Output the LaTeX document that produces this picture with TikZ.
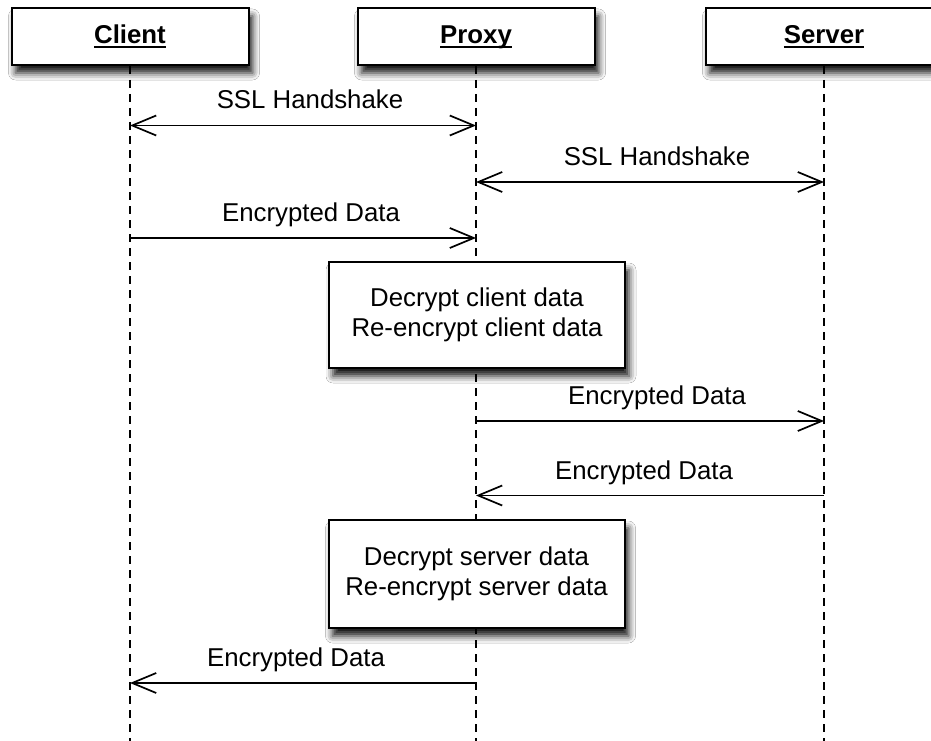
\documentclass[tikz,border=0pt]{standalone}
\usepackage{fontspec}
\setmainfont{Liberation Sans}
\usetikzlibrary{arrows.meta,shadows.blur}

% bold title with a rule set just under the baseline
\newcommand\ultitle[1]{\setbox0\hbox{\bfseries #1}\rlap{\rule[-4.5pt]{\wd0}{2pt}}\box0}

\begin{document}
\begin{tikzpicture}[x=1pt,y=-1pt,
  every node/.style={font=\fontsize{25.8}{29.5}\selectfont},
  softshadow/.style={blur shadow={shadow xshift=4pt, shadow yshift=-8pt,
      shadow blur radius=7pt, shadow opacity=92}},
  actor/.style={draw, line width=2pt, fill=white, minimum width=237pt,
      minimum height=57pt, inner sep=0pt, text height=18pt, text depth=4.5pt,
      softshadow},
  activity/.style={draw, line width=2pt, fill=white, minimum width=296pt,
      inner sep=0pt, align=center, softshadow},
  lifeline/.style={line width=2pt, dash pattern=on 8pt off 6pt},
  msg/.style={line width=1.7pt},
  tipR/.style={-{Straight Barb[length=24pt,width=20pt]}},
  tipL/.style={{Straight Barb[length=24pt,width=20pt]}-},
  tipLR/.style={{Straight Barb[length=24pt,width=20pt]}-{Straight Barb[length=24pt,width=20pt]}},
  lbl/.style={anchor=base, inner sep=0pt}
]
\clip (0,0) rectangle (931,741);
\fill[white] (0,0) rectangle (931,741);

% participants
\coordinate (client-end) at (130,745);
\coordinate (proxy-end) at (476,745);
\coordinate (server-end) at (824,745);
\node[actor] (client) at (130,36.5) {\ultitle{Client}};
\node[actor] (proxy) at (476,36.5) {\ultitle{Proxy}};
\node[actor] (server) at (824,36.5) {\ultitle{Server}};

% lifelines
\draw[lifeline] (client.south) -- (client-end);
\draw[lifeline] (proxy.south) -- (proxy-end);
\draw[lifeline] (server.south) -- (server-end);

% message end points on the lifelines
\coordinate (c1) at (130,125.5);   \coordinate (p1) at (476,125.5);
\coordinate (p2) at (476,182);     \coordinate (s2) at (824,182);
\coordinate (c3) at (130,238);     \coordinate (p3) at (476,238);
\coordinate (p4) at (476,421);     \coordinate (s4) at (824,421);
\coordinate (p5) at (476,495.5);   \coordinate (s5) at (824,495.5);
\coordinate (c6) at (130,683);     \coordinate (p6) at (476,683);

% messages
\draw[msg,tipLR] (c1) -- (p1);
\node[lbl] (m1) at (310,109) {SSL Handshake};
\draw[msg,tipLR] (p2) -- (s2);
\node[lbl] (m2) at (657,165.5) {SSL Handshake};
\draw[msg,tipR] (c3) -- (p3);
\node[lbl] (m3) at (311,221.5) {Encrypted Data};
\draw[msg,tipR] (p4) -- (s4);
\node[lbl] (m4) at (657,404.5) {Encrypted Data};
\draw[msg,tipL] (p5) -- (s5);
\node[lbl] (m5) at (644,479) {Encrypted Data};
\draw[msg,tipL] (c6) -- (p6);
\node[lbl] (m6) at (296,666) {Encrypted Data};

% proxy processing steps
\node[activity, minimum height=106pt] (dec1) at (477,315)
  {Decrypt client data\\Re-encrypt client data};
\node[activity, minimum height=108pt] (dec2) at (476.5,574)
  {Decrypt server data\\Re-encrypt server data};
\end{tikzpicture}
\end{document}
